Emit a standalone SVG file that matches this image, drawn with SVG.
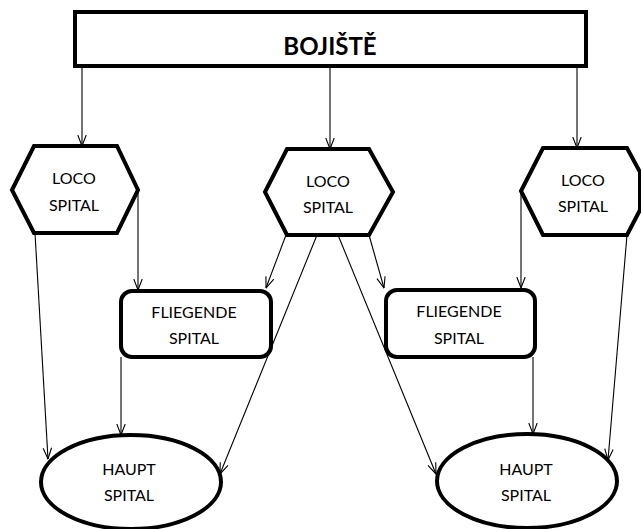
<svg xmlns="http://www.w3.org/2000/svg" width="641" height="529" viewBox="0 0 641 529">
<defs>
<marker id="arr" viewBox="0 0 12 10" refX="11.5" refY="5" markerWidth="12" markerHeight="10" markerUnits="userSpaceOnUse" orient="auto">
<path d="M0.5,0.8 L11.5,5 L0.5,9.2" fill="none" stroke="#000" stroke-width="1.1"/>
</marker>
<style>
.node{fill:#fff;stroke:#000;stroke-width:4;stroke-linejoin:miter}
.edge{fill:none;stroke:#000;stroke-width:1.1;marker-end:url(#arr)}
.lbl{font-family:Lato,"Open Sans","Liberation Sans",sans-serif;font-size:16px;fill:#000;text-anchor:middle}
.title{font-family:Lato,"Open Sans","Liberation Sans",sans-serif;font-size:24px;font-weight:bold;fill:#000;text-anchor:middle}
</style>
</defs>
<rect width="641" height="529" fill="#fff"/>
<g id="connectors">
<path class="edge" d="M82,66 L82,146"/>
<path class="edge" d="M330,66 L330,149"/>
<path class="edge" d="M577,66 L577,148"/>
<path class="edge" d="M138,190 L138,290"/>
<path class="edge" d="M35,233 L48,459"/>
<path class="edge" d="M121,357 L121,435"/>
<path class="edge" d="M286,235 L266,288"/>
<path class="edge" d="M317,235 L220,474"/>
<path class="edge" d="M338,235 L436,474"/>
<path class="edge" d="M369,235 L384,288"/>
<path class="edge" d="M521,191 L521,288"/>
<path class="edge" d="M533,357 L533,434"/>
<path class="edge" d="M627,235 L608,460"/>
</g>
<g id="bojiste">
<rect class="node" x="75" y="12" width="511" height="54"/>
<text class="title" x="330" y="55">BOJIŠTĚ</text>
</g>
<g id="loco1">
<polygon class="node" points="12,190 34,146 117,146 138,190 117,233 34,233"/>
<text class="lbl" x="74" y="184">LOCO</text>
<text class="lbl" x="74" y="211">SPITAL</text>
</g>
<g id="loco2">
<polygon class="node" points="265,192 287,149 369,149 393,192 369,235 287,235"/>
<text class="lbl" x="328" y="187">LOCO</text>
<text class="lbl" x="328" y="213">SPITAL</text>
</g>
<g id="loco3">
<polygon class="node" points="521,191 543,148 627,148 640,172 640,210 627,235 543,235"/>
<text class="lbl" x="583" y="186">LOCO</text>
<text class="lbl" x="583" y="212">SPITAL</text>
</g>
<g id="fliegende1">
<rect class="node" x="121" y="291" width="150" height="66" rx="11"/>
<text class="lbl" x="194" y="318">FLIEGENDE</text>
<text class="lbl" x="194" y="344">SPITAL</text>
</g>
<g id="fliegende2">
<rect class="node" x="386" y="290" width="149" height="67" rx="11"/>
<text class="lbl" x="459" y="317">FLIEGENDE</text>
<text class="lbl" x="459" y="344">SPITAL</text>
</g>
<g id="haupt1">
<ellipse class="node" cx="131" cy="482" rx="90" ry="47"/>
<text class="lbl" x="129" y="475">HAUPT</text>
<text class="lbl" x="129" y="501">SPITAL</text>
</g>
<g id="haupt2">
<ellipse class="node" cx="527" cy="481" rx="90" ry="47"/>
<text class="lbl" x="526" y="475">HAUPT</text>
<text class="lbl" x="526" y="501">SPITAL</text>
</g>
</svg>
